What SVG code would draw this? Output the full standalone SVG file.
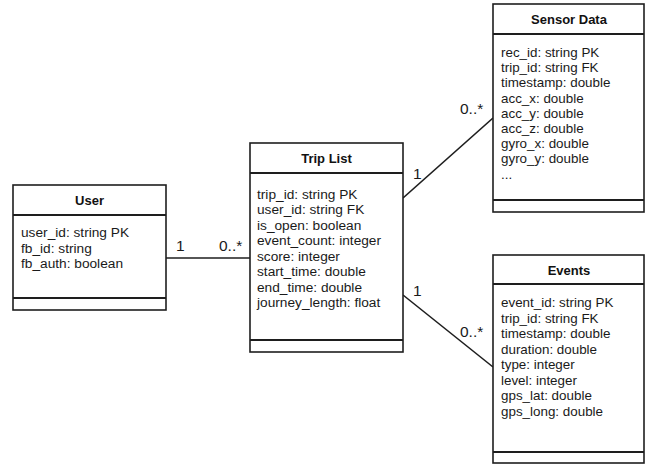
<svg xmlns="http://www.w3.org/2000/svg" width="645" height="464" viewBox="0 0 645 464">
<style>
.box{fill:#fff;stroke:#1e1e1e;stroke-width:1.6}
.div{stroke:#1e1e1e;stroke-width:1.8}
.title{font-family:"Liberation Sans",Arial,sans-serif;font-weight:bold;font-size:13px;fill:#111;text-anchor:middle}
.attr{font-family:"Liberation Sans",Arial,sans-serif;font-size:13.7px;fill:#1a1a1a}
.attr2{font-family:"Liberation Sans",Arial,sans-serif;font-size:13.4px;fill:#1a1a1a}
.mult{font-family:"Liberation Sans",Arial,sans-serif;font-size:15.5px;fill:#1a1a1a}
.conn{stroke:#1e1e1e;stroke-width:1.6;fill:none}
</style>
<rect width="645" height="464" fill="#fff"/>
<g id="connectors">
<line class="conn" x1="166" y1="258" x2="250" y2="258"/>
<line class="conn" x1="403" y1="198" x2="493" y2="118"/>
<line class="conn" x1="403" y1="295" x2="493" y2="367"/>
<text class="mult" x="176" y="251">1</text>
<text class="mult" x="219" y="251">0..*</text>
<text class="mult" x="413" y="179">1</text>
<text class="mult" x="460" y="114">0..*</text>
<text class="mult" x="413" y="296">1</text>
<text class="mult" x="460" y="337">0..*</text>
</g>
<g id="user">
<rect class="box" x="13" y="185" width="153" height="125"/>
<line class="div" x1="13" y1="215" x2="166" y2="215"/>
<line class="div" x1="13" y1="298" x2="166" y2="298"/>
<text class="title" x="89.5" y="205">User</text>
<text class="attr" x="21" y="237">user_id: string PK</text>
<text class="attr" x="21" y="252.5">fb_id: string</text>
<text class="attr" x="21" y="268">fb_auth: boolean</text>
</g>
<g id="trip-list">
<rect class="box" x="250" y="143" width="153" height="209"/>
<line class="div" x1="250" y1="173" x2="403" y2="173"/>
<line class="div" x1="250" y1="340" x2="403" y2="340"/>
<text class="title" x="326.5" y="163">Trip List</text>
<text class="attr" x="257" y="198.5">trip_id: string PK</text>
<text class="attr" x="257" y="214">user_id: string FK</text>
<text class="attr" x="257" y="229.5">is_open: boolean</text>
<text class="attr" x="257" y="245">event_count: integer</text>
<text class="attr" x="257" y="260.5">score: integer</text>
<text class="attr" x="257" y="276">start_time: double</text>
<text class="attr" x="257" y="291.5">end_time: double</text>
<text class="attr" x="257" y="307">journey_length: float</text>
</g>
<g id="sensor-data">
<rect class="box" x="493" y="4" width="151" height="208"/>
<line class="div" x1="493" y1="34" x2="644" y2="34"/>
<line class="div" x1="493" y1="200" x2="644" y2="200"/>
<text class="title" x="569" y="24">Sensor Data</text>
<text class="attr2" x="501" y="57">rec_id: string PK</text>
<text class="attr2" x="501" y="72.2">trip_id: string FK</text>
<text class="attr2" x="501" y="87.4">timestamp: double</text>
<text class="attr2" x="501" y="102.6">acc_x: double</text>
<text class="attr2" x="501" y="117.8">acc_y: double</text>
<text class="attr2" x="501" y="133">acc_z: double</text>
<text class="attr2" x="501" y="148.2">gyro_x: double</text>
<text class="attr2" x="501" y="163.4">gyro_y: double</text>
<text class="attr2" x="501" y="178.6">...</text>
</g>
<g id="events">
<rect class="box" x="493" y="255" width="151" height="208"/>
<line class="div" x1="493" y1="284" x2="644" y2="284"/>
<line class="div" x1="493" y1="452" x2="644" y2="452"/>
<text class="title" x="569" y="275">Events</text>
<text class="attr2" x="501" y="307">event_id: string PK</text>
<text class="attr2" x="501" y="322.5">trip_id: string FK</text>
<text class="attr2" x="501" y="338">timestamp: double</text>
<text class="attr2" x="501" y="353.5">duration: double</text>
<text class="attr2" x="501" y="369">type: integer</text>
<text class="attr2" x="501" y="384.5">level: integer</text>
<text class="attr2" x="501" y="400">gps_lat: double</text>
<text class="attr2" x="501" y="415.5">gps_long: double</text>
</g>
</svg>
